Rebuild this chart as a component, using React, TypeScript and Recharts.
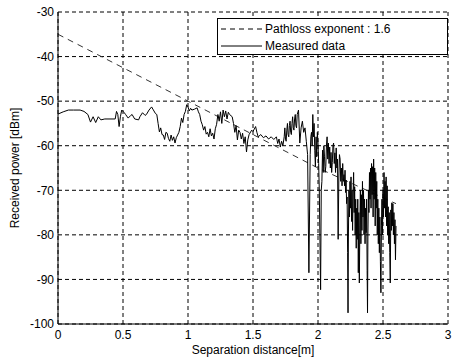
import { LineChart, Line, XAxis, YAxis, CartesianGrid, Legend } from 'recharts';

// x-axis ticks (m) and y-axis ticks (dBm)
const distanceTicks = [0, 0.5, 1, 1.5, 2, 2.5, 3];
const powerTicks = [-100, -90, -80, -70, -60, -50, -40, -30];

// dashed model line: pathloss exponent 1.6
const pathlossPoints: [number, number][] = [
  [0, -35], [0.5, -42.5], [1, -50], [1.5, -57.5], [2, -65], [2.6, -73],
];

// measured received power [distance, dBm]
const measuredPoints: [number, number][] = [
  [0.00, -52.9], [0.04, -52.4], [0.08, -52.0], [0.12, -52.0], [0.17, -52.0], [0.20, -52.3],
  [0.23, -53.0], [0.25, -54.7], [0.27, -53.5], [0.29, -54.8], [0.31, -53.5], [0.33, -54.2],
  [0.36, -54.0], [0.40, -54.0], [0.44, -54.0], [0.45, -52.3], [0.46, -53.0], [0.47, -55.7],
  [0.48, -53.5], [0.49, -52.0], [0.51, -52.6], [0.52, -53.0], [0.54, -53.8], [0.56, -53.2],
  [0.57, -53.0], [0.59, -54.0], [0.62, -54.2], [0.63, -53.5], [0.65, -52.6], [0.67, -53.2],
  [0.68, -53.0], [0.70, -52.0], [0.72, -51.3], [0.73, -51.8], [0.75, -52.8], [0.76, -53.0],
  [0.77, -55.0], [0.78, -56.9], [0.79, -56.0], [0.80, -57.5], [0.81, -57.6], [0.82, -58.6],
  [0.83, -57.0], [0.84, -57.2], [0.85, -58.4], [0.86, -59.0], [0.87, -57.6], [0.88, -58.8],
  [0.89, -58.0], [0.90, -59.4], [0.91, -58.2], [0.92, -57.6], [0.93, -57.0], [0.94, -55.7],
  [0.95, -53.8], [0.96, -54.8], [0.97, -53.0], [0.98, -52.3], [0.99, -50.8], [1.00, -51.3],
  [1.01, -52.2], [1.02, -51.6], [1.03, -52.0], [1.05, -51.8], [1.07, -51.5], [1.08, -52.4],
  [1.09, -53.0], [1.10, -54.5], [1.11, -55.3], [1.12, -56.5], [1.13, -55.7], [1.14, -57.4],
  [1.15, -57.0], [1.16, -58.0], [1.17, -56.2], [1.18, -57.8], [1.19, -57.2], [1.20, -58.5],
  [1.21, -56.2], [1.22, -55.2], [1.23, -53.0], [1.24, -54.5], [1.25, -52.4], [1.26, -55.0],
  [1.27, -52.0], [1.28, -53.5], [1.29, -52.2], [1.30, -54.0], [1.31, -52.5], [1.32, -53.0],
  [1.34, -53.5], [1.35, -55.0], [1.36, -57.0], [1.37, -55.5], [1.38, -58.7], [1.39, -56.5],
  [1.40, -57.0], [1.41, -58.5], [1.42, -57.2], [1.43, -59.5], [1.44, -58.0], [1.45, -61.4],
  [1.46, -58.7], [1.47, -57.5], [1.49, -56.5], [1.50, -56.8], [1.52, -55.7], [1.53, -57.0],
  [1.54, -58.0], [1.56, -57.5], [1.58, -58.2], [1.60, -57.8], [1.62, -58.5], [1.64, -58.0],
  [1.66, -58.6], [1.68, -58.0], [1.69, -59.5], [1.70, -58.5], [1.71, -60.3], [1.72, -59.0],
  [1.73, -60.0], [1.74, -58.0], [1.745, -56.0], [1.75, -58.5], [1.755, -59.0], [1.76, -56.5],
  [1.765, -55.0], [1.77, -57.5], [1.775, -58.0], [1.78, -55.5], [1.785, -54.5], [1.79, -57.0],
  [1.795, -57.5], [1.80, -55.0], [1.805, -53.5], [1.81, -56.0], [1.815, -56.5], [1.82, -54.0],
  [1.825, -53.0], [1.83, -55.5], [1.835, -56.0], [1.84, -53.0], [1.85, -52.0], [1.86, -59.4],
  [1.87, -56.0], [1.88, -54.5], [1.89, -57.0], [1.90, -56.0], [1.91, -59.0], [1.92, -62.0],
  [1.93, -88.5], [1.94, -62.0], [1.945, -58.0], [1.95, -57.0], [1.955, -60.0], [1.96, -53.0],
  [1.965, -58.0], [1.97, -55.0], [1.975, -61.0], [1.98, -64.7], [1.985, -58.0], [1.99, -62.5],
  [1.995, -57.0], [2.00, -59.4], [2.005, -64.0], [2.01, -70.0], [2.02, -92.3], [2.025, -70.0],
  [2.03, -68.0], [2.035, -61.0], [2.04, -66.0], [2.045, -60.0], [2.05, -62.5], [2.055, -66.0],
  [2.06, -64.7], [2.065, -60.0], [2.07, -58.0], [2.075, -63.0], [2.08, -59.4], [2.085, -64.0],
  [2.09, -60.3], [2.095, -65.0], [2.10, -61.5], [2.105, -66.0], [2.11, -63.8], [2.115, -60.0],
  [2.12, -59.4], [2.125, -64.0], [2.13, -61.6], [2.135, -66.0], [2.14, -60.5], [2.145, -65.0],
  [2.15, -63.0], [2.155, -81.0], [2.16, -67.7], [2.165, -62.0], [2.17, -63.0], [2.175, -68.0],
  [2.18, -65.0], [2.185, -69.0], [2.19, -64.0], [2.195, -68.0], [2.200, -66.5], [2.204, -69.0],
  [2.208, -65.5], [2.212, -70.5], [2.216, -67.7], [2.220, -73.0], [2.224, -71.5], [2.228, -84.0],
  [2.231, -97.5], [2.234, -80.0], [2.238, -70.0], [2.242, -76.0], [2.246, -68.0], [2.250, -74.0],
  [2.254, -67.0], [2.258, -77.0], [2.262, -70.0], [2.266, -79.0], [2.270, -70.6], [2.274, -66.0],
  [2.278, -75.0], [2.282, -69.2], [2.286, -80.0], [2.290, -72.0], [2.294, -83.0], [2.298, -74.0],
  [2.302, -81.0], [2.306, -72.0], [2.310, -88.5], [2.314, -75.0], [2.318, -90.8], [2.322, -78.0],
  [2.326, -70.0], [2.330, -82.0], [2.334, -71.0], [2.338, -79.0], [2.342, -68.0], [2.346, -76.0],
  [2.350, -70.0], [2.354, -80.0], [2.358, -72.0], [2.362, -82.0], [2.366, -74.0], [2.370, -79.5],
  [2.374, -72.0], [2.378, -88.0], [2.381, -97.5], [2.384, -80.0], [2.388, -70.0], [2.392, -75.0],
  [2.396, -66.0], [2.400, -72.0], [2.404, -65.0], [2.408, -74.0], [2.412, -64.0], [2.416, -71.0],
  [2.420, -64.7], [2.424, -76.0], [2.428, -63.0], [2.432, -72.0], [2.436, -65.0], [2.440, -78.0],
  [2.444, -66.0], [2.448, -74.0], [2.452, -68.0], [2.456, -80.0], [2.460, -72.0], [2.464, -82.0],
  [2.468, -74.0], [2.472, -84.0], [2.476, -76.0], [2.480, -86.0], [2.484, -93.0], [2.488, -78.0],
  [2.492, -72.0], [2.496, -80.0], [2.500, -70.0], [2.504, -76.0], [2.508, -66.0], [2.512, -74.0],
  [2.516, -68.0], [2.520, -76.0], [2.524, -67.0], [2.528, -78.0], [2.532, -69.0], [2.536, -80.0],
  [2.540, -73.7], [2.544, -82.0], [2.548, -75.0], [2.552, -84.0], [2.556, -90.8], [2.560, -74.4],
  [2.564, -79.0], [2.568, -72.8], [2.572, -78.0], [2.576, -73.0], [2.580, -80.0], [2.584, -75.0],
  [2.588, -82.0], [2.592, -76.6], [2.596, -85.6], [2.600, -78.0],
];

const pathlossData = pathlossPoints.map(([d, p]) => ({ d, pathloss: p }));
const measuredData = measuredPoints.map(([d, p]) => ({ d, measured: p }));

const FONT = 'Arial, "Liberation Sans", Helvetica, sans-serif';

function YTitle(props: any) {
  const vb = props.viewBox || { x: 0, y: 12, width: 58, height: 312 };
  const cx = vb.x + 15;
  const cy = vb.y + vb.height / 2;
  return (
    <text
      x={cx}
      y={cy}
      transform={`rotate(-90 ${cx} ${cy})`}
      textAnchor="middle"
      dominantBaseline="central"
      fontSize={12}
      fill="#000"
      fontFamily={FONT}
    >
      Received power [dBm]
    </text>
  );
}

function LegendBox() {
  const row = (dash: string | undefined, label: string) => (
    <div style={{ display: 'flex', alignItems: 'center', height: 17 }}>
      <svg width={44} height={10} style={{ marginLeft: 3 }}>
        <line x1={0} y1={5} x2={41} y2={5} stroke="#000" strokeWidth={1} strokeDasharray={dash} />
      </svg>
      <span style={{ fontSize: 12, color: '#000', fontFamily: FONT }}>{label}</span>
    </div>
  );
  return (
    <div
      style={{
        width: 229,
        height: 34,
        border: '1px solid #000',
        background: '#fff',
        paddingTop: 1,
      }}
    >
      {row('5 4', 'Pathloss exponent : 1.6')}
      {row(undefined, 'Measured data')}
    </div>
  );
}

export default function App() {
  return (
    <div style={{ position: 'absolute', left: 0, top: 0, background: '#fff', fontFamily: FONT }}>
      <LineChart width={452} height={359} margin={{ top: 12, right: 4, bottom: 0, left: 0 }}>
        <CartesianGrid stroke="#000" strokeDasharray="4 3" strokeWidth={1} />
        <XAxis
          dataKey="d"
          type="number"
          domain={[0, 3]}
          ticks={distanceTicks}
          allowDataOverflow
          height={35}
          tickLine={false}
          tickSize={6}
          tickMargin={0}
          axisLine={{ stroke: '#000' }}
          tick={{ fill: '#000', fontSize: 12, fontFamily: FONT }}
          label={{ value: 'Separation distance[m]', position: 'insideBottom', offset: 5, fill: '#000', fontSize: 12, fontFamily: FONT }}
        />
        <XAxis
          xAxisId="top"
          orientation="top"
          type="number"
          domain={[0, 3]}
          height={0}
          tick={false}
          tickLine={false}
          axisLine={{ stroke: '#000' }}
        />
        <YAxis
          type="number"
          domain={[-100, -30]}
          ticks={powerTicks}
          allowDataOverflow
          width={58}
          tickLine={false}
          tickSize={4}
          tickMargin={0}
          axisLine={{ stroke: '#000' }}
          tick={{ fill: '#000', fontSize: 12, fontFamily: FONT }}
          label={<YTitle />}
        />
        <YAxis
          yAxisId="right"
          orientation="right"
          type="number"
          domain={[-100, -30]}
          width={0}
          tick={false}
          tickLine={false}
          axisLine={{ stroke: '#000' }}
        />
        <Legend
          layout="vertical"
          align="center"
          verticalAlign="middle"
          content={() => <LegendBox />}
          wrapperStyle={{ position: 'absolute', left: 217, top: 18, width: 232, height: 36 }}
        />
        <Line
          data={pathlossData}
          dataKey="pathloss"
          type="linear"
          stroke="#333"
          strokeWidth={1}
          strokeDasharray="6 5"
          dot={false}
          isAnimationActive={false}
        />
        <Line
          data={measuredData}
          dataKey="measured"
          type="linear"
          stroke="#000"
          strokeWidth={1}
          dot={false}
          isAnimationActive={false}
        />
      </LineChart>
    </div>
  );
}
